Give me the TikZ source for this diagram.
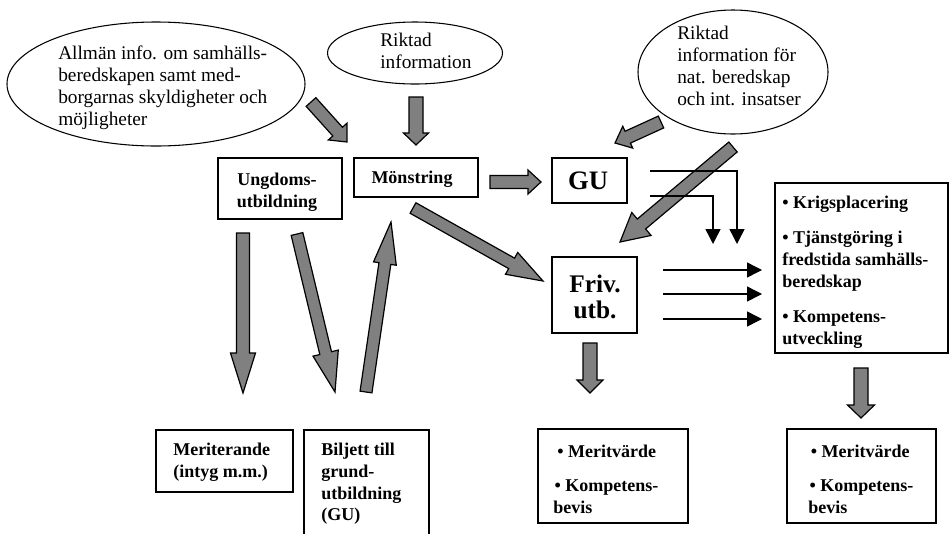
\documentclass[tikz,border=0pt]{standalone}
\usepackage{fontspec}
\setmainfont{Liberation Serif}
\usetikzlibrary{calc,shapes.geometric,arrows.meta,fit}
\definecolor{arrowgray}{RGB}{128,128,128}
\newcommand\ellfont{\fontsize{14.5}{16.5}\selectfont}
\newcommand\boxfont{\bfseries\fontsize{13.5}{16.3}\selectfont}
\newcommand\fatarrow[5]{%
  \pgfmathsetmacro\fatS{#3*0.375}%
  \pgfmathsetmacro\fatH{#4*0.375}%
  \pgfmathsetmacro\fatL{#5*0.75}%
  \coordinate (fa-b) at ($(#2)!\fatL pt!(#1)$);%
  \filldraw[fat] ($(#1)!\fatS pt!90:(#2)$) -- ($(fa-b)!\fatS pt!90:(#2)$) -- ($(fa-b)!\fatH pt!90:(#2)$) -- (#2) -- ($(fa-b)!\fatH pt!-90:(#2)$) -- ($(fa-b)!\fatS pt!-90:(#2)$) -- ($(#1)!\fatS pt!-90:(#2)$) -- cycle;%
}
\tikzset{
  box/.style={draw, line width=1.1pt, inner sep=0pt},
  oval/.style={draw, ellipse, line width=0.8pt, inner sep=0pt},
  ovaltext/.style={inner sep=0pt, align=left, font=\ellfont, anchor=west},
  boxtext/.style={inner sep=0pt, align=left, font=\boxfont, anchor=north west},
  fat/.style={fill=arrowgray, draw=black, line width=0.9pt, line join=miter},
  thin/.style={draw=black, line width=1.1pt, -{Triangle[width=11.25pt,length=11.25pt]}}
}
\begin{document}
\begin{tikzpicture}[x=0.75pt,y=-0.75pt]
\useasboundingbox (0,0) rectangle (949,533);
% ellipses
\node[oval, minimum width=223.5pt, minimum height=93pt] (e1) at (156,84) {};
\node[ovaltext] (te1) at (58,88) {Allmän info. om samhälls-\\beredskapen samt med-\\borgarnas skyldigheter och\\möjligheter};
\node[oval, minimum width=131.25pt, minimum height=46.5pt] (e2) at (415,53) {};
\node[ovaltext] (te2) at (380,51) {Riktad\\information};
\node[oval, minimum width=142.5pt, minimum height=93pt] (e3) at (733,72) {};
\node[ovaltext] (te3) at (677,66) {Riktad\\information för\\nat. beredskap\\och int. insatser};
% boxes
\node[box, fit={(218,158) (342,219)}] (ung) {};
\node[inner sep=0pt, align=center, font=\boxfont] (tung) at (277,192) {Ungdoms-\\utbildning};
\node[box, fit={(354,158) (478,197)}] (mon) {};
\node[inner sep=0pt, font=\boxfont] (tmon) at (412,179) {Mönstring};
\node[box, fit={(552,158) (627,203)}] (gu) {};
\node[inner sep=0pt, font=\bfseries\fontsize{20}{20}\selectfont] (tgu) at (588,181) {GU};
\node[box, fit={(552,257) (637,333)}] (friv) {};
\node[inner sep=0pt, align=center, font=\bfseries\fontsize{19}{19}\selectfont] (tfriv) at (595,297) {Friv.\\utb.};
\node[box, fit={(775,183) (948,353)}] (krig) {};
\node[boxtext] (tkrig) at (782,196) {\textbullet\ Krigsplacering\\[10pt]\textbullet\ Tjänstgöring i\\fredstida samhälls-\\beredskap\\[10pt]\textbullet\ Kompetens-\\utveckling};
\node[box, fit={(156,430) (293,492)}] (mer) {};
\node[boxtext] (tmer) at (173,443) {Meriterande\\(intyg m.m.)};
\node[box, fit={(304,430) (429,545)}] (bil) {};
\node[boxtext] (tbil) at (321,443) {Biljett till\\grund-\\utbildning\\(GU)};
\node[box, fit={(538,429) (688,523)}] (mva) {};
\node[boxtext] (tmva) at (553,445) {\hspace{3pt}\textbullet\ Meritvärde\\[9pt]\hspace{1pt}\textbullet\ Kompetens-\\bevis};
\node[box, fit={(787,429) (936,523)}] (mvb) {};
\node[boxtext] (tmvb) at (808,445) {\hspace{2pt}\textbullet\ Meritvärde\\[9pt]\hspace{1pt}\textbullet\ Kompetens-\\bevis};
% fat arrows
\coordinate (a1s) at (311,102); \coordinate (a1e) at (347,142);
\coordinate (a2s) at (416,97);  \coordinate (a2e) at (416,145);
\coordinate (a3s) at (490,182); \coordinate (a3e) at (541,182);
\coordinate (a4s) at (661,122); \coordinate (a4e) at (615,143);
\coordinate (a5s) at (733,147); \coordinate (a5e) at (620,242);
\coordinate (a6s) at (413,208); \coordinate (a6e) at (543,281);
\coordinate (a7s) at (243,233); \coordinate (a7e) at (243,393);
\coordinate (a8s) at (297,234); \coordinate (a8e) at (335,392);
\coordinate (a9s) at (366,392); \coordinate (a9e) at (391,222);
\coordinate (a10s) at (590,343); \coordinate (a10e) at (590,393);
\coordinate (a11s) at (861,368); \coordinate (a11e) at (861,418);
\fatarrow{a1s}{a1e}{13}{25}{14}
\fatarrow{a2s}{a2e}{14}{25}{12}
\fatarrow{a3s}{a3e}{13}{24}{13}
\fatarrow{a4s}{a4e}{13}{24}{14}
\fatarrow{a5s}{a5e}{13}{30}{28}
\fatarrow{a6s}{a6e}{12}{25}{36}
\fatarrow{a7s}{a7e}{13}{25}{40}
\fatarrow{a8s}{a8e}{12}{26}{40}
\fatarrow{a9s}{a9e}{12}{23}{42}
\fatarrow{a10s}{a10e}{14}{26}{13}
\fatarrow{a11s}{a11e}{14}{27}{13}
% thin arrows
\coordinate (g1s) at (650,171); \coordinate (g1e) at (737,244);
\coordinate (g2s) at (650,196); \coordinate (g2e) at (713,244);
\draw[thin] (g1s) -| (g1e);
\draw[thin] (g2s) -| (g2e);
\coordinate (h1s) at (663,270); \coordinate (h1e) at (762,270);
\coordinate (h2s) at (663,294); \coordinate (h2e) at (762,294);
\coordinate (h3s) at (663,319); \coordinate (h3e) at (762,319);
\draw[thin] (h1s) -- (h1e);
\draw[thin] (h2s) -- (h2e);
\draw[thin] (h3s) -- (h3e);
\end{tikzpicture}
\end{document}
